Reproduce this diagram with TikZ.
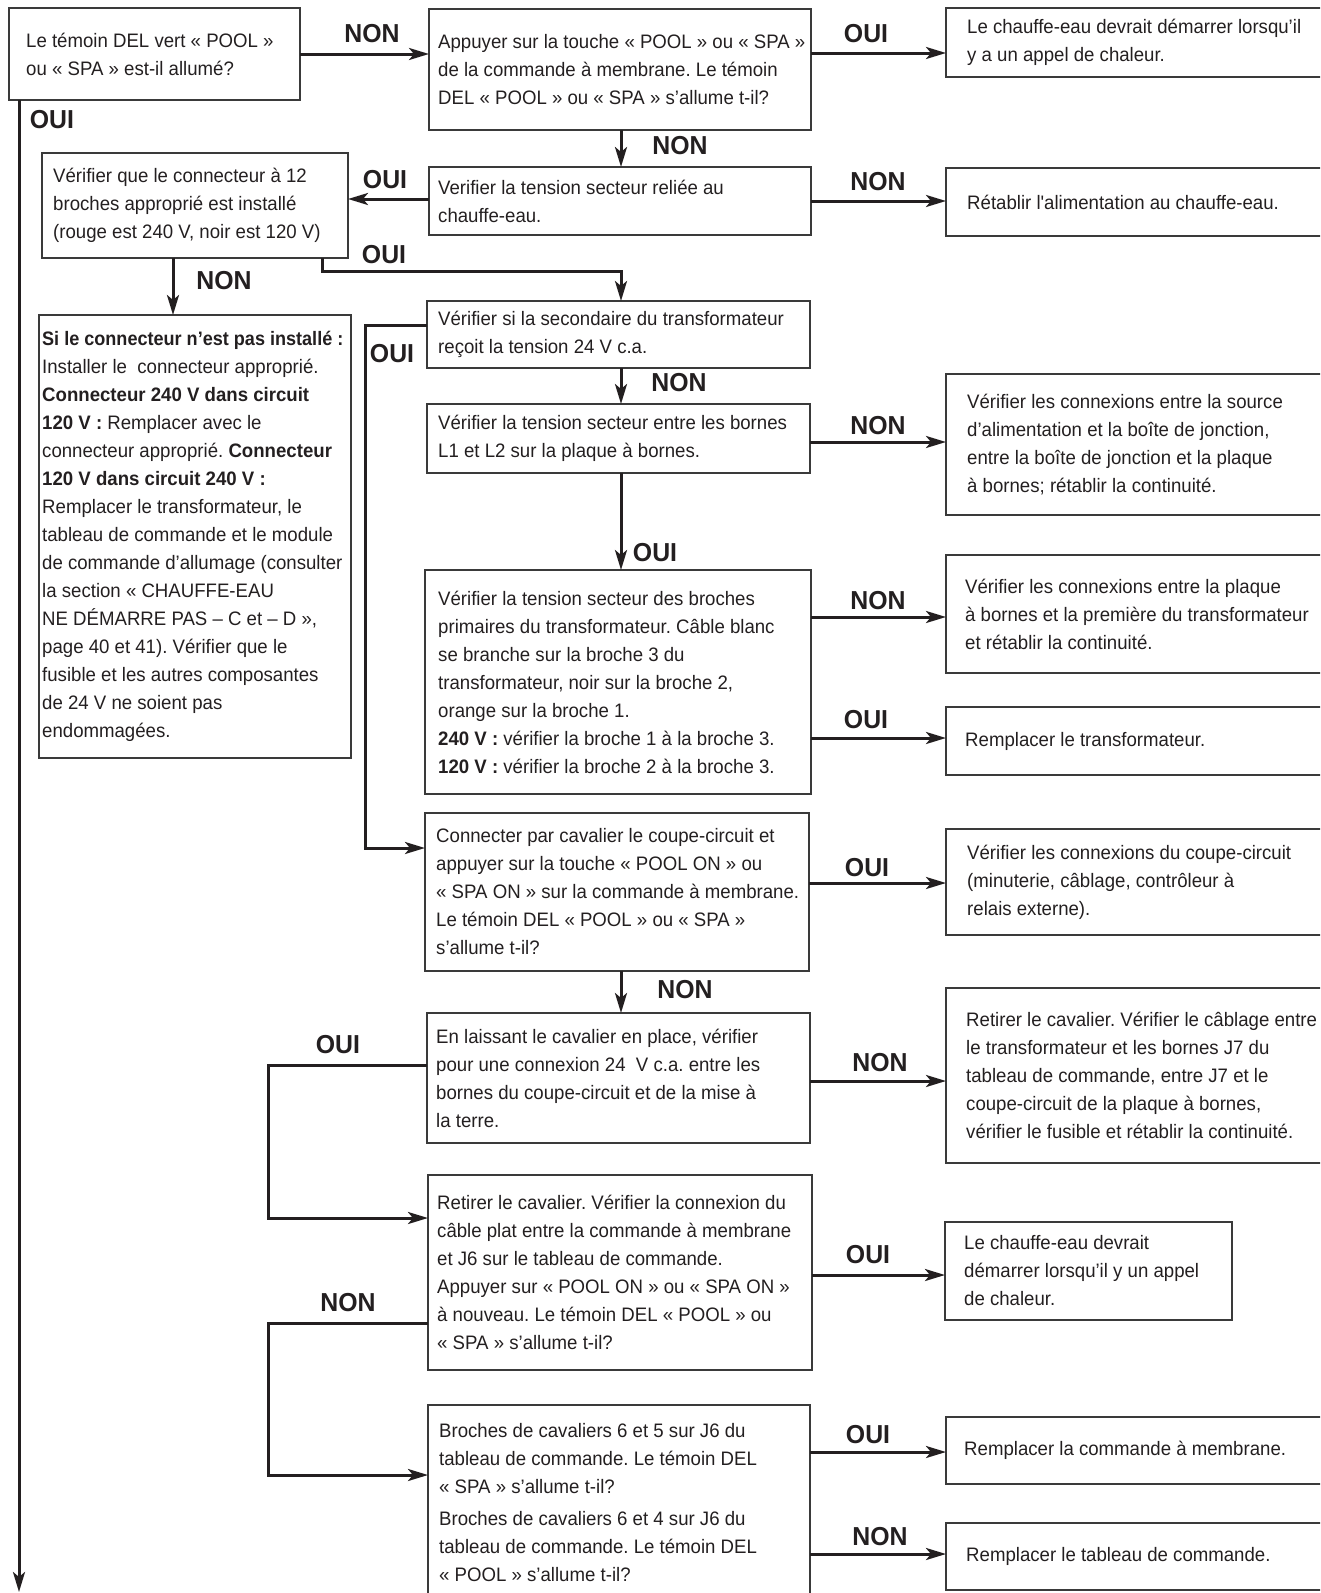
\documentclass[tikz,border=0pt]{standalone}
\usepackage{graphicx}
\usepackage{fontspec}
\setmainfont{Liberation Sans}[FakeStretch=0.955,Ligatures=TeXOff]
\usetikzlibrary{arrows.meta}
\definecolor{ink}{HTML}{231F20}
\definecolor{boxc}{HTML}{3A3A3A}
\frenchspacing
\newcommand\flowbox[7]{%
  \node[boxst, minimum width={#4pt-#2pt}, minimum height={#5pt-#3pt}, anchor=north west] (#1) at (#2,#3) {};
  \node[ftxt, anchor=west] (#1t) at ([xshift=#6pt]#1.west) {#7};}
\begin{document}
\begin{tikzpicture}[x=1pt,y=-1pt,
  boxst/.style={draw=boxc, line width=1.6pt, rectangle, inner sep=0pt, outer sep=0pt},
  ftxt/.style={inner sep=0pt, align=left, text=ink, font=\frenchspacing\fontsize{19.5}{28}\selectfont},
  lab/.style={inner sep=0pt, text=ink, font=\bfseries\fontsize{26}{30}\selectfont},
  conn/.style={draw=ink, line width=3pt},
  arr/.style={conn, -{Stealth[length=20pt,width=12pt,inset=5pt]}}]
\useasboundingbox (0,0) rectangle (1320,1593);
\clip (0,0) rectangle (1320,1593);

\flowbox{A}{9}{8}{300}{100}{17}{Le témoin DEL vert « POOL »\\ou « SPA » est-il allumé?}
\flowbox{B}{429}{9}{811}{130}{9}{Appuyer sur la touche « POOL » ou « SPA »\\de la commande à membrane. Le témoin\\DEL « POOL » ou « SPA » s’allume t-il?}
\flowbox{C}{946}{8}{1330}{77}{21}{Le chauffe-eau devrait démarrer lorsqu’il\\y a un appel de chaleur.}
\flowbox{D}{429}{167}{811}{235}{9}{Verifier la tension secteur reliée au\\chauffe-eau.}
\flowbox{E}{946}{168}{1330}{236}{21}{Rétablir l'alimentation au chauffe-eau.}
\flowbox{F}{42}{153}{348}{258}{11}{Vérifier que le connecteur à 12\\broches approprié est installé\\(rouge est 240 V, noir est 120 V)}
\flowbox{G}{39}{315}{351}{758}{3}{\scalebox{0.97}[1]{\textbf{Si le connecteur n’est pas installé :}}\\Installer le\ \ connecteur approprié.\\\textbf{Connecteur 240 V dans circuit}\\\textbf{120 V :} Remplacer avec le\\connecteur approprié. \textbf{Connecteur}\\\textbf{120 V dans circuit 240 V :}\\Remplacer le transformateur, le\\tableau de commande et le module\\de commande d’allumage (consulter\\la section « CHAUFFE-EAU\\NE DÉMARRE PAS – C et – D »,\\page 40 et 41). Vérifier que le\\fusible et les autres composantes\\de 24 V ne soient pas\\endommagées.}
\flowbox{H}{427}{301}{810}{368}{11}{Vérifier si la secondaire du transformateur\\reçoit la tension 24 V c.a.}
\flowbox{I}{427}{404}{810}{473}{11}{Vérifier la tension secteur entre les bornes\\L1 et L2 sur la plaque à bornes.}
\flowbox{J}{946}{374}{1330}{515}{21}{Vérifier les connexions entre la source\\d’alimentation et la boîte de jonction,\\entre la boîte de jonction et la plaque\\à bornes; rétablir la continuité.}
\flowbox{K}{425}{570}{811}{794}{13}{Vérifier la tension secteur des broches\\primaires du transformateur. Câble blanc\\se branche sur la broche 3 du\\transformateur, noir sur la broche 2,\\orange sur la broche 1.\\\textbf{240 V :} vérifier la broche 1 à la broche 3.\\\textbf{120 V :} vérifier la broche 2 à la broche 3.}
\flowbox{L}{946}{555}{1330}{673}{19}{Vérifier les connexions entre la plaque\\à bornes et la première du transformateur\\et rétablir la continuité.}
\flowbox{M}{946}{707}{1330}{775}{19}{Remplacer le transformateur.}
\flowbox{N}{425}{813}{809}{971}{11}{Connecter par cavalier le coupe-circuit et\\appuyer sur la touche « POOL ON » ou\\« SPA ON » sur la commande à membrane.\\Le témoin DEL « POOL » ou « SPA »\\s’allume t-il?}
\flowbox{O}{946}{829}{1330}{935}{21}{Vérifier les connexions du coupe-circuit\\(minuterie, câblage, contrôleur à\\relais externe).}
\flowbox{P}{427}{1013}{810}{1143}{9}{En laissant le cavalier en place, vérifier\\pour une connexion 24\ \ V c.a. entre les\\bornes du coupe-circuit et de la mise à\\la terre.}
\flowbox{Q}{946}{988}{1330}{1163}{20}{Retirer le cavalier. Vérifier le câblage entre\\le transformateur et les bornes J7 du\\tableau de commande, entre J7 et le\\coupe-circuit de la plaque à bornes,\\vérifier le fusible et rétablir la continuité.}
\flowbox{R}{428}{1175}{812}{1370}{9}{Retirer le cavalier. Vérifier la connexion du\\câble plat entre la commande à membrane\\et J6 sur le tableau de commande.\\Appuyer sur « POOL ON » ou « SPA ON »\\à nouveau. Le témoin DEL « POOL » ou\\« SPA » s’allume t-il?}
\flowbox{S}{945}{1222}{1232}{1320}{19}{Le chauffe-eau devrait\\démarrer lorsqu’il y un appel\\de chaleur.}
\flowbox{T}{428}{1405}{810}{1600}{11}{Broches de cavaliers 6 et 5 sur J6 du\\tableau de commande. Le témoin DEL\\« SPA » s’allume t-il?\\[4pt]Broches de cavaliers 6 et 4 sur J6 du\\tableau de commande. Le témoin DEL\\« POOL » s’allume t-il?}
\flowbox{U}{946}{1417}{1330}{1484}{18}{Remplacer la commande à membrane.}
\flowbox{V}{946}{1523}{1330}{1590}{20}{Remplacer le tableau de commande.}

\coordinate (Aend) at (19,1592);
\draw[arr] (A.east) -- (A.east -| B.west);
\draw[arr] (B.east |- 0,53) -- (C.west |- 0,53);
\draw[arr] (19,0 |- A.south) -- (Aend);
\draw[arr] (621,0 |- B.south) -- (621,0 |- D.north);
\draw[arr] (D.east) -- (D.east -| E.west);
\draw[arr] (D.west |- 0,199) -- (F.east |- 0,199);
\draw[arr] (173,0 |- F.south) -- (173,0 |- G.north);
\draw[arr] (322,0 |- F.south) -- (322,271) -- (621,271) -- (621,0 |- H.north);
\draw[arr] (H.west |- 0,325) -- (365,325) -- (365,848) -- (N.west |- 0,848);
\draw[arr] (621,0 |- H.south) -- (621,0 |- I.north);
\draw[arr] (I.east |- 0,442) -- (J.west |- 0,442);
\draw[arr] (621,0 |- I.south) -- (621,0 |- K.north);
\draw[arr] (K.east |- 0,617) -- (L.west |- 0,617);
\draw[arr] (K.east |- 0,738) -- (M.west |- 0,738);
\draw[arr] (N.east |- 0,883) -- (O.west |- 0,883);
\draw[arr] (621,0 |- N.south) -- (621,0 |- P.north);
\draw[arr] (P.east |- 0,1081) -- (Q.west |- 0,1081);
\draw[arr] (P.west |- 0,1065) -- (268,1065) -- (268,1218) -- (R.west |- 0,1218);
\draw[arr] (R.east |- 0,1275) -- (S.west |- 0,1275);
\draw[arr] (R.west |- 0,1323) -- (268,1323) -- (268,1475) -- (T.west |- 0,1475);
\draw[arr] (T.east |- 0,1452) -- (U.west |- 0,1452);
\draw[arr] (T.east |- 0,1554) -- (V.west |- 0,1554);

\node[lab] (l1) at (372,34) {NON};
\node[lab] (l2) at (866,34) {OUI};
\node[lab] (l3) at (52,120) {OUI};
\node[lab] (l4) at (680,146) {NON};
\node[lab] (l5) at (878,182) {NON};
\node[lab] (l6) at (385,180) {OUI};
\node[lab] (l7) at (224,281) {NON};
\node[lab] (l8) at (384,255) {OUI};
\node[lab] (l9) at (392,354) {OUI};
\node[lab] (l10) at (679,383) {NON};
\node[lab] (l11) at (878,426) {NON};
\node[lab] (l12) at (655,553) {OUI};
\node[lab] (l13) at (878,601) {NON};
\node[lab] (l14) at (866,720) {OUI};
\node[lab] (l15) at (867,868) {OUI};
\node[lab] (l16) at (685,990) {NON};
\node[lab] (l17) at (880,1063) {NON};
\node[lab] (l18) at (338,1045) {OUI};
\node[lab] (l19) at (868,1255) {OUI};
\node[lab] (l20) at (348,1303) {NON};
\node[lab] (l21) at (868,1435) {OUI};
\node[lab] (l22) at (880,1537) {NON};
\end{tikzpicture}
\end{document}
